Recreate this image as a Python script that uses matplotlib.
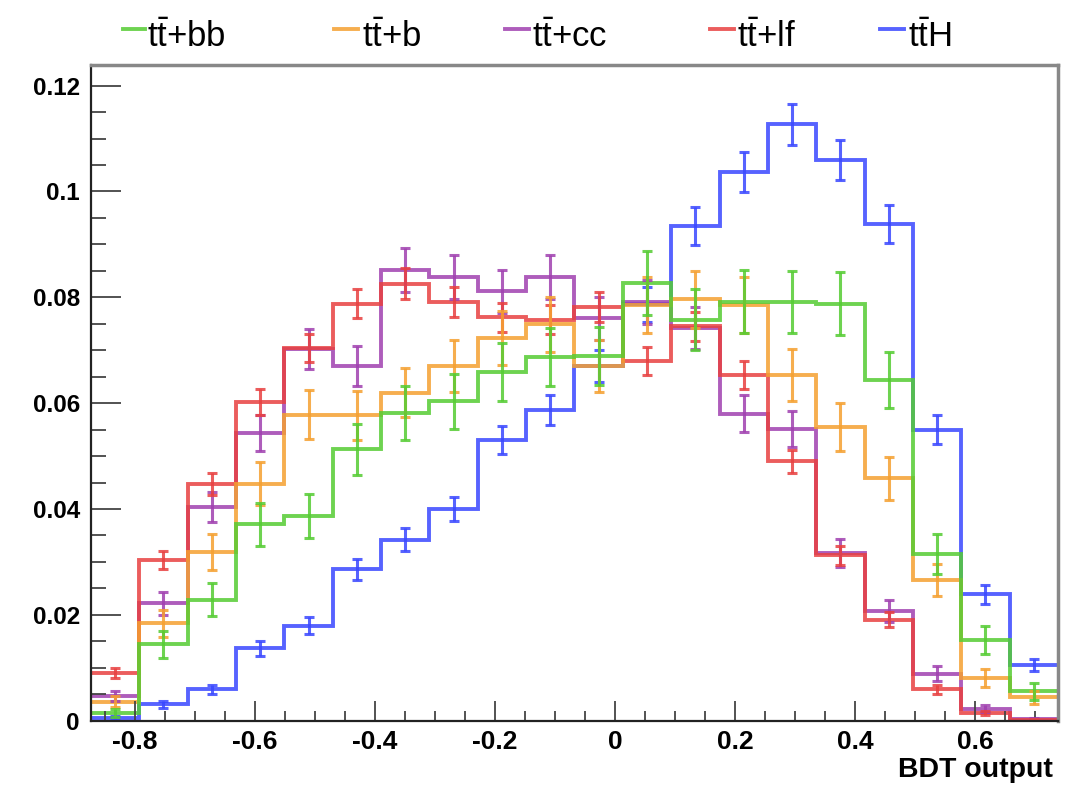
import numpy as np
import matplotlib
matplotlib.use("Agg")
import matplotlib.pyplot as plt
from matplotlib.lines import Line2D
from matplotlib.ticker import MultipleLocator

plt.rcParams['font.family'] = ['Liberation Sans', 'DejaVu Sans']
plt.rcParams['mathtext.fontset'] = 'custom'
plt.rcParams['mathtext.rm'] = 'Liberation Sans'
plt.rcParams['mathtext.it'] = 'Liberation Sans'

# binning of the BDT output
x_lo, x_hi, n_bins = -0.873, 0.738, 20

# normalised BDT distributions (one value per bin)
ttbb = [0.0015, 0.0144, 0.0229, 0.0371, 0.0387, 0.0513, 0.0581, 0.0604, 0.0659, 0.0687,
        0.0689, 0.0827, 0.0758, 0.0792, 0.0791, 0.0788, 0.0643, 0.0315, 0.0152, 0.0056]
ttbb_err = [0.0008, 0.0025, 0.0032, 0.0040, 0.0041, 0.0048, 0.0051, 0.0052, 0.0054, 0.0055,
            0.0055, 0.0060, 0.0058, 0.0059, 0.0059, 0.0059, 0.0053, 0.0037, 0.0026, 0.0016]

ttb = [0.0036, 0.0184, 0.0318, 0.0448, 0.0578, 0.0577, 0.0620, 0.0670, 0.0724, 0.0749,
       0.0670, 0.0785, 0.0796, 0.0785, 0.0653, 0.0555, 0.0458, 0.0266, 0.0080, 0.0044]
ttb_err = [0.0011, 0.0026, 0.0034, 0.0040, 0.0046, 0.0046, 0.0047, 0.0049, 0.0051, 0.0052,
           0.0049, 0.0053, 0.0054, 0.0053, 0.0049, 0.0045, 0.0041, 0.0031, 0.0017, 0.0013]

ttcc = [0.0047, 0.0222, 0.0404, 0.0544, 0.0702, 0.0670, 0.0852, 0.0838, 0.0811, 0.0838,
        0.0760, 0.0791, 0.0742, 0.0580, 0.0552, 0.0317, 0.0208, 0.0089, 0.0023, 0.0003]
ttcc_err = [0.0010, 0.0022, 0.0029, 0.0034, 0.0038, 0.0038, 0.0042, 0.0042, 0.0041, 0.0042,
            0.0040, 0.0041, 0.0039, 0.0035, 0.0034, 0.0026, 0.0021, 0.0014, 0.0007, 0.0003]

ttlf = [0.0090, 0.0303, 0.0447, 0.0602, 0.0704, 0.0788, 0.0826, 0.0791, 0.0762, 0.0758,
        0.0782, 0.0680, 0.0745, 0.0653, 0.0490, 0.0313, 0.0191, 0.0059, 0.0014, 0.0002]
ttlf_err = [0.0010, 0.0017, 0.0021, 0.0025, 0.0027, 0.0028, 0.0029, 0.0028, 0.0028, 0.0028,
            0.0028, 0.0026, 0.0027, 0.0026, 0.0022, 0.0018, 0.0014, 0.0008, 0.0004, 0.0001]

tth = [0.0005, 0.0031, 0.0059, 0.0137, 0.0179, 0.0286, 0.0342, 0.0400, 0.0530, 0.0587,
       0.0670, 0.0787, 0.0935, 0.1037, 0.1127, 0.1059, 0.0938, 0.0550, 0.0239, 0.0105]
tth_err = [0.0003, 0.0007, 0.0009, 0.0014, 0.0016, 0.0020, 0.0022, 0.0023, 0.0027, 0.0028,
           0.0030, 0.0033, 0.0036, 0.0038, 0.0039, 0.0038, 0.0036, 0.0027, 0.0018, 0.0012]

labels = [r'$\mathrm{t\bar{t}}$+bb', r'$\mathrm{t\bar{t}}$+b', r'$\mathrm{t\bar{t}}$+cc',
          r'$\mathrm{t\bar{t}}$+lf', r'$\mathrm{t\bar{t}}$H']
colors = ['#55cc33', '#f5a030', '#a040b0', '#e84040', '#3a48ff']

edges = np.linspace(x_lo, x_hi, n_bins + 1)
centers = 0.5 * (edges[:-1] + edges[1:])

W, H = 1065, 788
fig = plt.figure(figsize=(W / 100, H / 100), dpi=100)
ax = fig.add_axes([0.0854, 0.0854, 0.908, 0.8315])

samples = [(ttbb, ttbb_err), (ttb, ttb_err), (ttcc, ttcc_err), (ttlf, ttlf_err), (tth, tth_err)]
order = [4, 2, 3, 1, 0]  # drawing order
for i in order:
    vals, errs = samples[i]
    c = colors[i]
    ax.stairs(vals, edges, color=c, lw=2.8, alpha=0.85, baseline=None)
    ax.errorbar(centers, vals, yerr=errs, fmt='none', ecolor=c, elinewidth=2.2,
                capsize=3.5, capthick=2.2, alpha=0.85)

ax.set_xlim(x_lo, x_hi)
ax.set_ylim(0, 0.1238)

ax.xaxis.set_minor_locator(MultipleLocator(0.05))
ax.yaxis.set_minor_locator(MultipleLocator(0.005))
ax.set_xticks([-0.8, -0.6, -0.4, -0.2, 0, 0.2, 0.4, 0.6])
ax.set_xticklabels(['-0.8', '-0.6', '-0.4', '-0.2', '0', '0.2', '0.4', '0.6'])
ax.set_yticks([0, 0.02, 0.04, 0.06, 0.08, 0.1, 0.12])
ax.set_yticklabels(['0', '0.02', '0.04', '0.06', '0.08', '0.1', '0.12'])

ax.tick_params(axis='x', which='major', direction='in', length=14.4, width=1.3, color='#444444',
               labelsize=19, pad=7)
ax.tick_params(axis='x', which='minor', direction='in', length=7.2, width=1.3, color='#444444')
ax.tick_params(axis='y', which='major', direction='in', length=21.6, width=1.3, color='#444444',
               labelsize=17.5, pad=8)
ax.tick_params(axis='y', which='minor', direction='in', length=10.8, width=1.3, color='#444444')
for lab in ax.get_xticklabels() + ax.get_yticklabels():
    lab.set_fontweight('bold')

for s in ['left', 'bottom']:
    ax.spines[s].set_color('#222222')
    ax.spines[s].set_linewidth(1.6)
for s in ['top', 'right']:
    ax.spines[s].set_color('#888888')
    ax.spines[s].set_linewidth(2.5)

fig.text(1053 / W, 1 - 777 / H, 'BDT output', ha='right', va='baseline',
         fontsize=20.5, fontweight='bold')

# legend row above the frame (line sample + label)
leg_line_x = [(123, 145), (334, 358), (505, 529), (710, 734), (880, 904)]
leg_text_x = [147, 362, 532, 737, 908]
for i in range(5):
    x0, x1 = leg_line_x[i]
    fig.add_artist(Line2D([x0 / W, x1 / W], [1 - 29 / H, 1 - 29 / H], color=colors[i],
                          lw=2.8, alpha=0.85, transform=fig.transFigure))
    fig.text(leg_text_x[i] / W, 1 - 47 / H, labels[i], ha='left', va='baseline', fontsize=25)

fig.savefig('out.png', dpi=100)
